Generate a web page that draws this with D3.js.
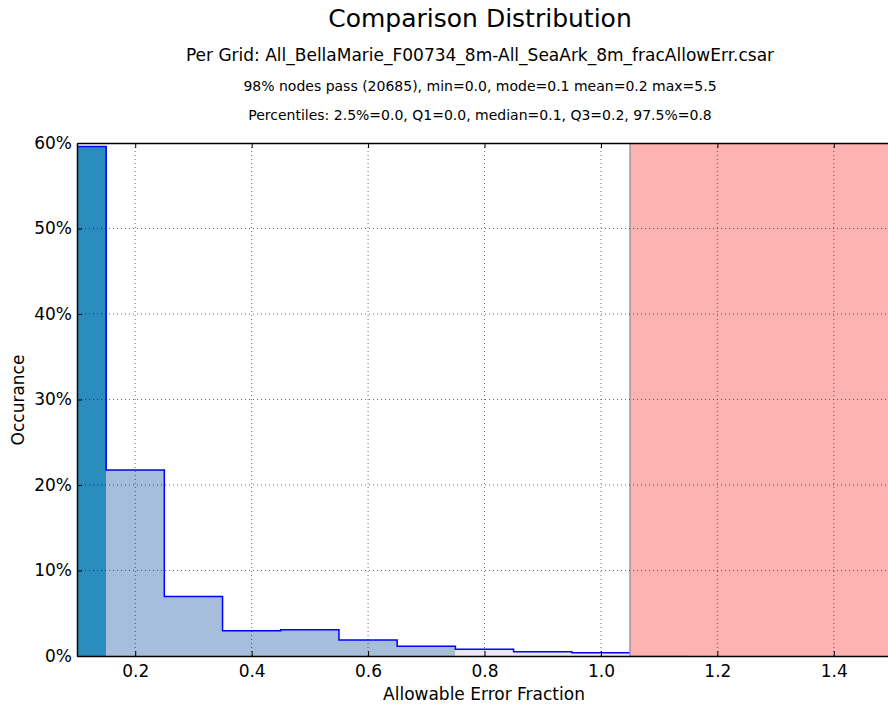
<!DOCTYPE html>
<html>
<head>
<meta charset="utf-8">
<script src="https://cdn.jsdelivr.net/npm/d3@7"></script>
<style>
	body { margin: 0; background: #fff; }
	svg { display: block; font-family: "DejaVu Sans", sans-serif; }
</style>
</head>
<body>
<div id="chart"></div>
<script>
// histogram bins (percent of nodes), each bin 0.1 wide
const binStarts = [0.05, 0.15, 0.25, 0.35, 0.45, 0.55, 0.65, 0.75, 0.85, 0.95];
const binValues = [59.6, 21.75, 6.95, 2.96, 3.08, 1.87, 1.13, 0.78, 0.5, 0.39];
// bins beyond the allowed limit
const tailStarts = [1.05];
const tailValues = [0.15];
const binWidth = 0.1;
const failFrom = 1.05;

const xTicks = [0.2, 0.4, 0.6, 0.8, 1.0, 1.2, 1.4];
const yTicks = [0, 10, 20, 30, 40, 50, 60];

const titleLines = [
	"Comparison Distribution",
	"Per Grid: All_BellaMarie_F00734_8m-All_SeaArk_8m_fracAllowErr.csar",
	"98% nodes pass (20685), min=0.0, mode=0.1 mean=0.2 max=5.5",
	"Percentiles: 2.5%=0.0, Q1=0.0, median=0.1, Q3=0.2, 97.5%=0.8"
];

const width = 888, height = 706;
const pLeft = 77, pTop = 143, pBottom = 656, pRight = 892;

let svg = d3.select("#chart")
			.append("svg")
			.attr("width", width)
			.attr("height", height);

const xScale = d3.scaleLinear().domain([0.1, 1.5]).range([pLeft, pRight]);
const yScale = d3.scaleLinear().domain([0, 60]).range([pBottom, pTop]);

const fillColor = d3.scaleThreshold()
					.domain([0.15, 0.75])
					.range(["#2b8cbe", "#a6bddb", "#ece7f2"]);

svg.append("clipPath")
	.attr("id", "plot-clip")
	.append("rect")
	.attr("x", pLeft).attr("y", pTop)
	.attr("width", pRight - pLeft).attr("height", pBottom - pTop);

let plot = svg.append("g").attr("clip-path", "url(#plot-clip)");

const bins = binStarts.map((s, i) => ({ x0: s, x1: s + binWidth, v: binValues[i] }));
const tail = tailStarts.map((s, i) => ({ x0: s, x1: s + binWidth, v: tailValues[i] }));

plot.selectAll("rect.bin")
	.data(bins.concat(tail))
	.enter()
	.append("rect")
	.attr("class", "bin")
	.attr("x", d => xScale(d.x0))
	.attr("y", d => yScale(d.v))
	.attr("width", d => xScale(d.x1) - xScale(d.x0) + 0.5)
	.attr("height", d => yScale(0) - yScale(d.v))
	.attr("fill", d => fillColor(d.x0))
	.attr("shape-rendering", "crispEdges");

// step outline of the histogram
const stepPts = bins.map(d => [d.x0, d.v]);
stepPts.push([bins[bins.length - 1].x1, bins[bins.length - 1].v]);
const line = d3.line()
				.x(d => xScale(d[0]))
				.y(d => yScale(d[1]))
				.curve(d3.curveStepAfter);
plot.append("path")
	.attr("d", line(stepPts))
	.attr("fill", "none")
	.attr("stroke", "blue")
	.attr("stroke-width", 1.5);

// failing region
plot.append("rect")
	.attr("x", xScale(failFrom))
	.attr("y", pTop)
	.attr("width", pRight - xScale(failFrom))
	.attr("height", pBottom - pTop)
	.attr("fill", "red")
	.attr("fill-opacity", 0.3);
plot.append("line")
	.attr("x1", xScale(failFrom)).attr("x2", xScale(failFrom))
	.attr("y1", pTop).attr("y2", pBottom)
	.attr("stroke", "#999")
	.attr("stroke-width", 1.5);

// grid
let grid = svg.append("g").attr("stroke", "#000").attr("stroke-width", 0.8)
				.attr("stroke-dasharray", "1,3").attr("opacity", 0.7);
grid.selectAll("line.gx")
	.data(xTicks)
	.enter()
	.append("line")
	.attr("x1", d => xScale(d)).attr("x2", d => xScale(d))
	.attr("y1", pTop).attr("y2", pBottom);
grid.selectAll("line.gy")
	.data(yTicks.slice(1, -1))
	.enter()
	.append("line")
	.attr("x1", pLeft).attr("x2", pRight)
	.attr("y1", d => yScale(d)).attr("y2", d => yScale(d));

// axes with inward ticks
const xAxis = d3.axisBottom(xScale).tickValues(xTicks).tickFormat(d3.format(".1f"))
				.tickSizeInner(-5).tickSizeOuter(0).tickPadding(9);
let gx = svg.append("g")
	.attr("transform", `translate(0, ${pBottom})`)
	.call(xAxis);
const xTop = d3.axisTop(xScale).tickValues(xTicks).tickFormat("")
				.tickSizeInner(-5).tickSizeOuter(0);
let gxt = svg.append("g")
	.attr("transform", `translate(0, ${pTop})`)
	.call(xTop);

const yAxis = d3.axisLeft(yScale).tickValues(yTicks).tickFormat(d => d + "%")
				.tickSizeInner(-5).tickSizeOuter(0).tickPadding(5);
let gy = svg.append("g")
	.attr("transform", `translate(${pLeft}, 0)`)
	.call(yAxis);

[gx, gxt, gy].forEach(g => {
	g.select(".domain").attr("stroke", "#000").attr("stroke-width", 1.5);
	g.selectAll(".tick line").attr("stroke", "#000").attr("stroke-width", 1);
	g.selectAll("text").attr("font-size", 17).attr("font-family", "DejaVu Sans").attr("fill", "#000");
});

// titles
const titleY = [27, 61, 91, 120];
const titleSize = [25, 17, 14, 14];
svg.selectAll("text.title")
	.data(titleLines)
	.enter()
	.append("text")
	.attr("class", "title")
	.attr("x", 480)
	.attr("y", (d, i) => titleY[i])
	.attr("text-anchor", "middle")
	.attr("font-size", (d, i) => titleSize[i])
	.text(d => d);

svg.append("text")
	.attr("x", 484)
	.attr("y", 700)
	.attr("text-anchor", "middle")
	.attr("font-size", 17)
	.text("Allowable Error Fraction");

svg.append("text")
	.attr("transform", "translate(24, 400) rotate(-90)")
	.attr("text-anchor", "middle")
	.attr("font-size", 17)
	.text("Occurance");
</script>
</body>
</html>
